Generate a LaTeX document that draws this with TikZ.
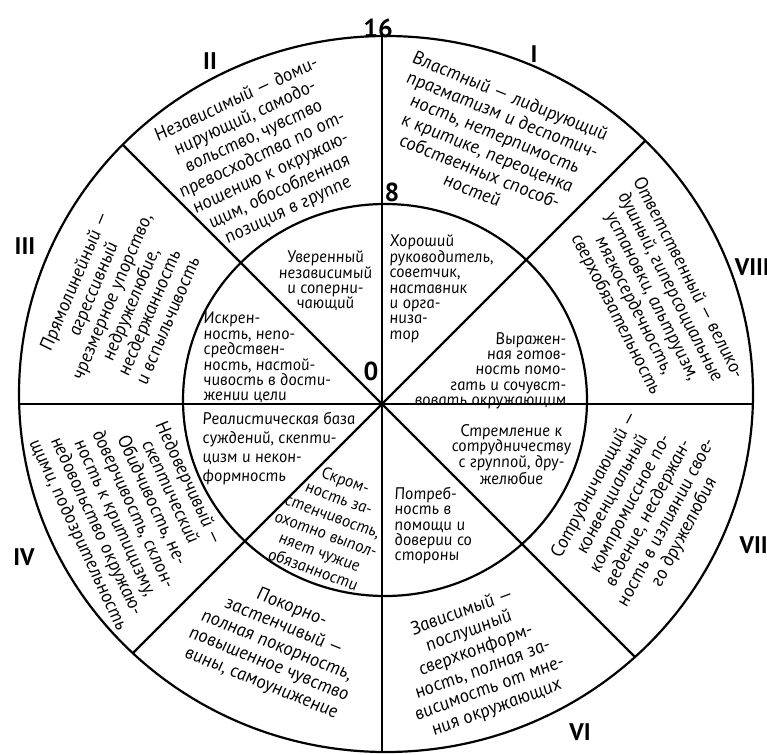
\documentclass[tikz,border=0pt]{standalone}
\usepackage{fontspec}
\setmainfont{PT Sans}
\newfontface\cursup{PT Sans Italic}[FakeSlant=-0.16]
\begin{document}
\begin{tikzpicture}[x=1pt,y=1pt,
  ring/.style={font=\fontsize{18.8}{20.3}\selectfont\cursup, align=center, inner sep=0pt},
  innertext/.style={font=\fontsize{16.8}{15.4}\selectfont\cursup, inner sep=0pt},
  innerwide/.style={font=\fontsize{16.8}{19}\selectfont\cursup, inner sep=0pt},
  numeral/.style={font=\fontsize{24}{24}\selectfont\bfseries, inner sep=0pt},
  scalelabel/.style={font=\fontsize{26}{26}\selectfont\bfseries, inner sep=0pt},
  divider/.style={line width=2.2pt},
]
\useasboundingbox[fill=white] (0,0) rectangle (767,-754);
\coordinate (C) at (382,-404);
\coordinate (O) at (386,-394);
\coordinate (M) at (385,-400);
\begin{scope}
  \clip (O) ellipse [x radius=367, y radius=358];
  \foreach \a in {0,45,...,315} \draw[divider] (C) -- ++(\a:500);
\end{scope}
\draw[divider] (O) ellipse [x radius=367, y radius=358];
\draw[divider] (M) ellipse [x radius=202, y radius=196];

% outer ring
\node[ring, rotate=-22] (tI) at (492,-143) {Властный — лидирующий\\прагматизм и деспотич-\\ность, нетерпимость\\к критике, переоценка\\собственных способ-\\ностей};
\node[ring, rotate=25] (tII) at (263,-155) {Независимый — доми-\\нирующий, самодо-\\вольство, чувство\\превосходства по от-\\ношению к окружаю-\\щим, обособленная\\позиция в группе};
\node[ring, rotate=67] (tIII) at (121,-300) {Прямолинейный —\\агрессивный\\чрезмерное упорство,\\недружелюбие,\\несдержанность\\и вспыльчивость};
\node[ring, rotate=-65] (tIV) at (133,-510) {Недоверчивый —\\скептический\\Обидчивость, не-\\доверчивость, склон-\\ность к критицизму,\\недовольство окружаю-\\щими, подозрительность};
\node[ring, rotate=-22] (tV) at (277,-646) {Покорно-\\застенчивый —\\полная покорность,\\повышенное чувство\\вины, самоунижение};
\node[ring, rotate=20] (tVI) at (480,-660) {Зависимый —\\послушный\\сверхконформ-\\ность, полная за-\\висимость от мне-\\ния окружающих};
\node[ring, rotate=62] (tVII) at (640,-508) {Сотрудничающий —\\конвенциальный\\компромиссное по-\\ведение, несдержан-\\ность в излиянии свое-\\го дружелюбия};
\node[ring, rotate=-63] (tVIII) at (652,-297) {Ответственный — велико-\\душный, гиперсоциальные\\установки, альтруизм,\\мягкосердечность,\\сверхобязательность};

% inner circle
\node[innertext, align=center] (iII) at (326,-281) {Уверенный\\независимый\\и соперни-\\чающий};
\node[innertext, align=left, anchor=north west] (iIII) at (204,-312) {Искрен-\\ность, непо-\\средствен-\\ность, настой-\\чивость в дости-\\жении цели};
\node[innertext, align=left, anchor=north west] (iI) at (390,-235) {Хороший\\руководитель,\\советчик,\\наставник\\и орга-\\низа-\\тор};
\node[innertext, align=right, anchor=north east] (iVIII) at (567,-332) {Выражен-\\ная готов-\\ность помо-\\гать и сочувст-\\вовать окружающим};
\node[innertext, align=center, anchor=north] (iVII) at (512,-424) {Стремление к\\сотрудничеству\\с группой, дру-\\желюбие};
\node[innertext, align=left, anchor=north west] (iVI) at (395,-487) {Потреб-\\ность в\\помощи и\\доверии со\\стороны};
\node[innerwide, align=left, anchor=north west] (iIV) at (203,-412) {Реалистическая база\\суждений, скепти-\\цизм и некон-\\формность};
\node[innerwide, align=center, rotate=-20] (iV) at (330,-525) {Скром-\\ность за-\\стенчивость,\\охотно выпол-\\няет чужие\\обязанности};

% scale labels
\node[scalelabel] (s16) at (378,-28) {16};
\node[scalelabel] (s8) at (392,-192) {8};
\node[scalelabel] (s0) at (371,-371) {0};

% octant numerals
\node[numeral] (nI) at (534,-54) {I};
\node[numeral] (nII) at (210,-61) {II};
\node[numeral] (nIII) at (25,-246) {III};
\node[numeral] (nIV) at (24,-557) {IV};
\node[numeral] (nVI) at (580,-732) {VI};
\node[numeral, anchor=east] (nVII) at (768,-545) {VII};
\node[numeral, anchor=east] (nVIII) at (770,-267) {VIII};
\end{tikzpicture}
\end{document}
